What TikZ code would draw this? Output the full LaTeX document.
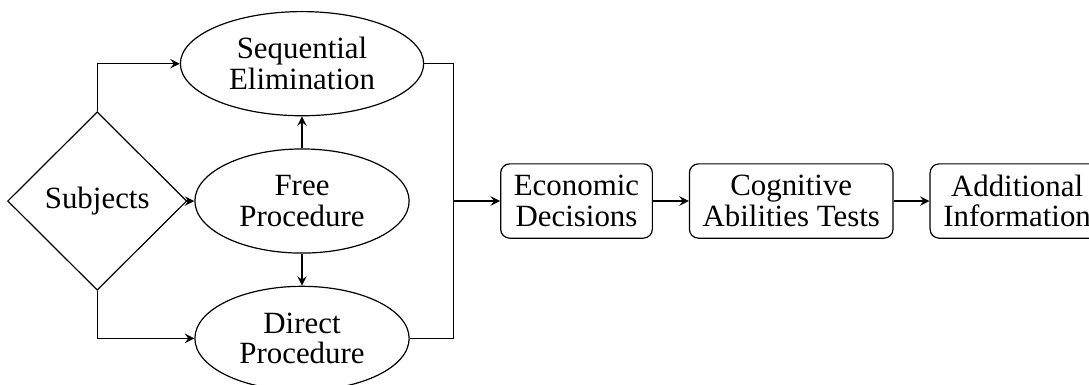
\documentclass[tikz,border=0pt]{standalone}
\usepackage{fontspec}
\setmainfont{Liberation Serif}
\usetikzlibrary{shapes.geometric, arrows}
\usetikzlibrary{positioning}
\tikzstyle{subject} = [diamond, minimum width=2.1cm, minimum height=2.09cm, inner sep=0pt, text centered, draw=black]
\tikzstyle{procedure} = [ellipse, minimum width=2.51cm, minimum height=1.22cm, inner sep=0pt, align=center, draw=black]
\tikzstyle{stage} = [rectangle, rounded corners=3pt, minimum height=0.87cm, inner xsep=4.4pt, align=center, draw=black]
\tikzstyle{arrow} = [->,>=stealth]

\begin{document}
\begin{tikzpicture}[node distance=0.375cm, font=\fontsize{10.3}{10.25}\selectfont]
    \useasboundingbox (-3.538,2.355) rectangle (9.219,-2.155);
    \node (free) [procedure] {Free\\Procedure};
    \node (seq) [procedure, minimum width=2.85cm, above=of free] {Sequential\\Elimination};
    \node (direct) [procedure, below=of free] {Direct\\Procedure};
    \node (subj) [subject, left=0.08cm of free] {Subjects};
    \coordinate [right=1.77cm of free.center] (jn);
    \node (econ) [stage, right=0.55cm of jn] {Economic\\Decisions};
    \node (cog) [stage, right=0.42cm of econ] {Cognitive\\Abilities Tests};
    \node (add) [stage, right=0.42cm of cog] {Additional\\Information};

    \draw [arrow] (subj.north) |- (seq.west);
    \draw [arrow] (subj) -- (free);
    \draw [arrow] (subj.south) |- (direct.west);
    \draw [arrow] (free) -- (seq);
    \draw [arrow] (free) -- (direct);
    \draw (seq.east) -| (jn) |- (direct.east);
    \draw [arrow] (jn) -- (econ);
    \draw [arrow] (econ) -- (cog);
    \draw [arrow] (cog) -- (add);
\end{tikzpicture}
\end{document}
